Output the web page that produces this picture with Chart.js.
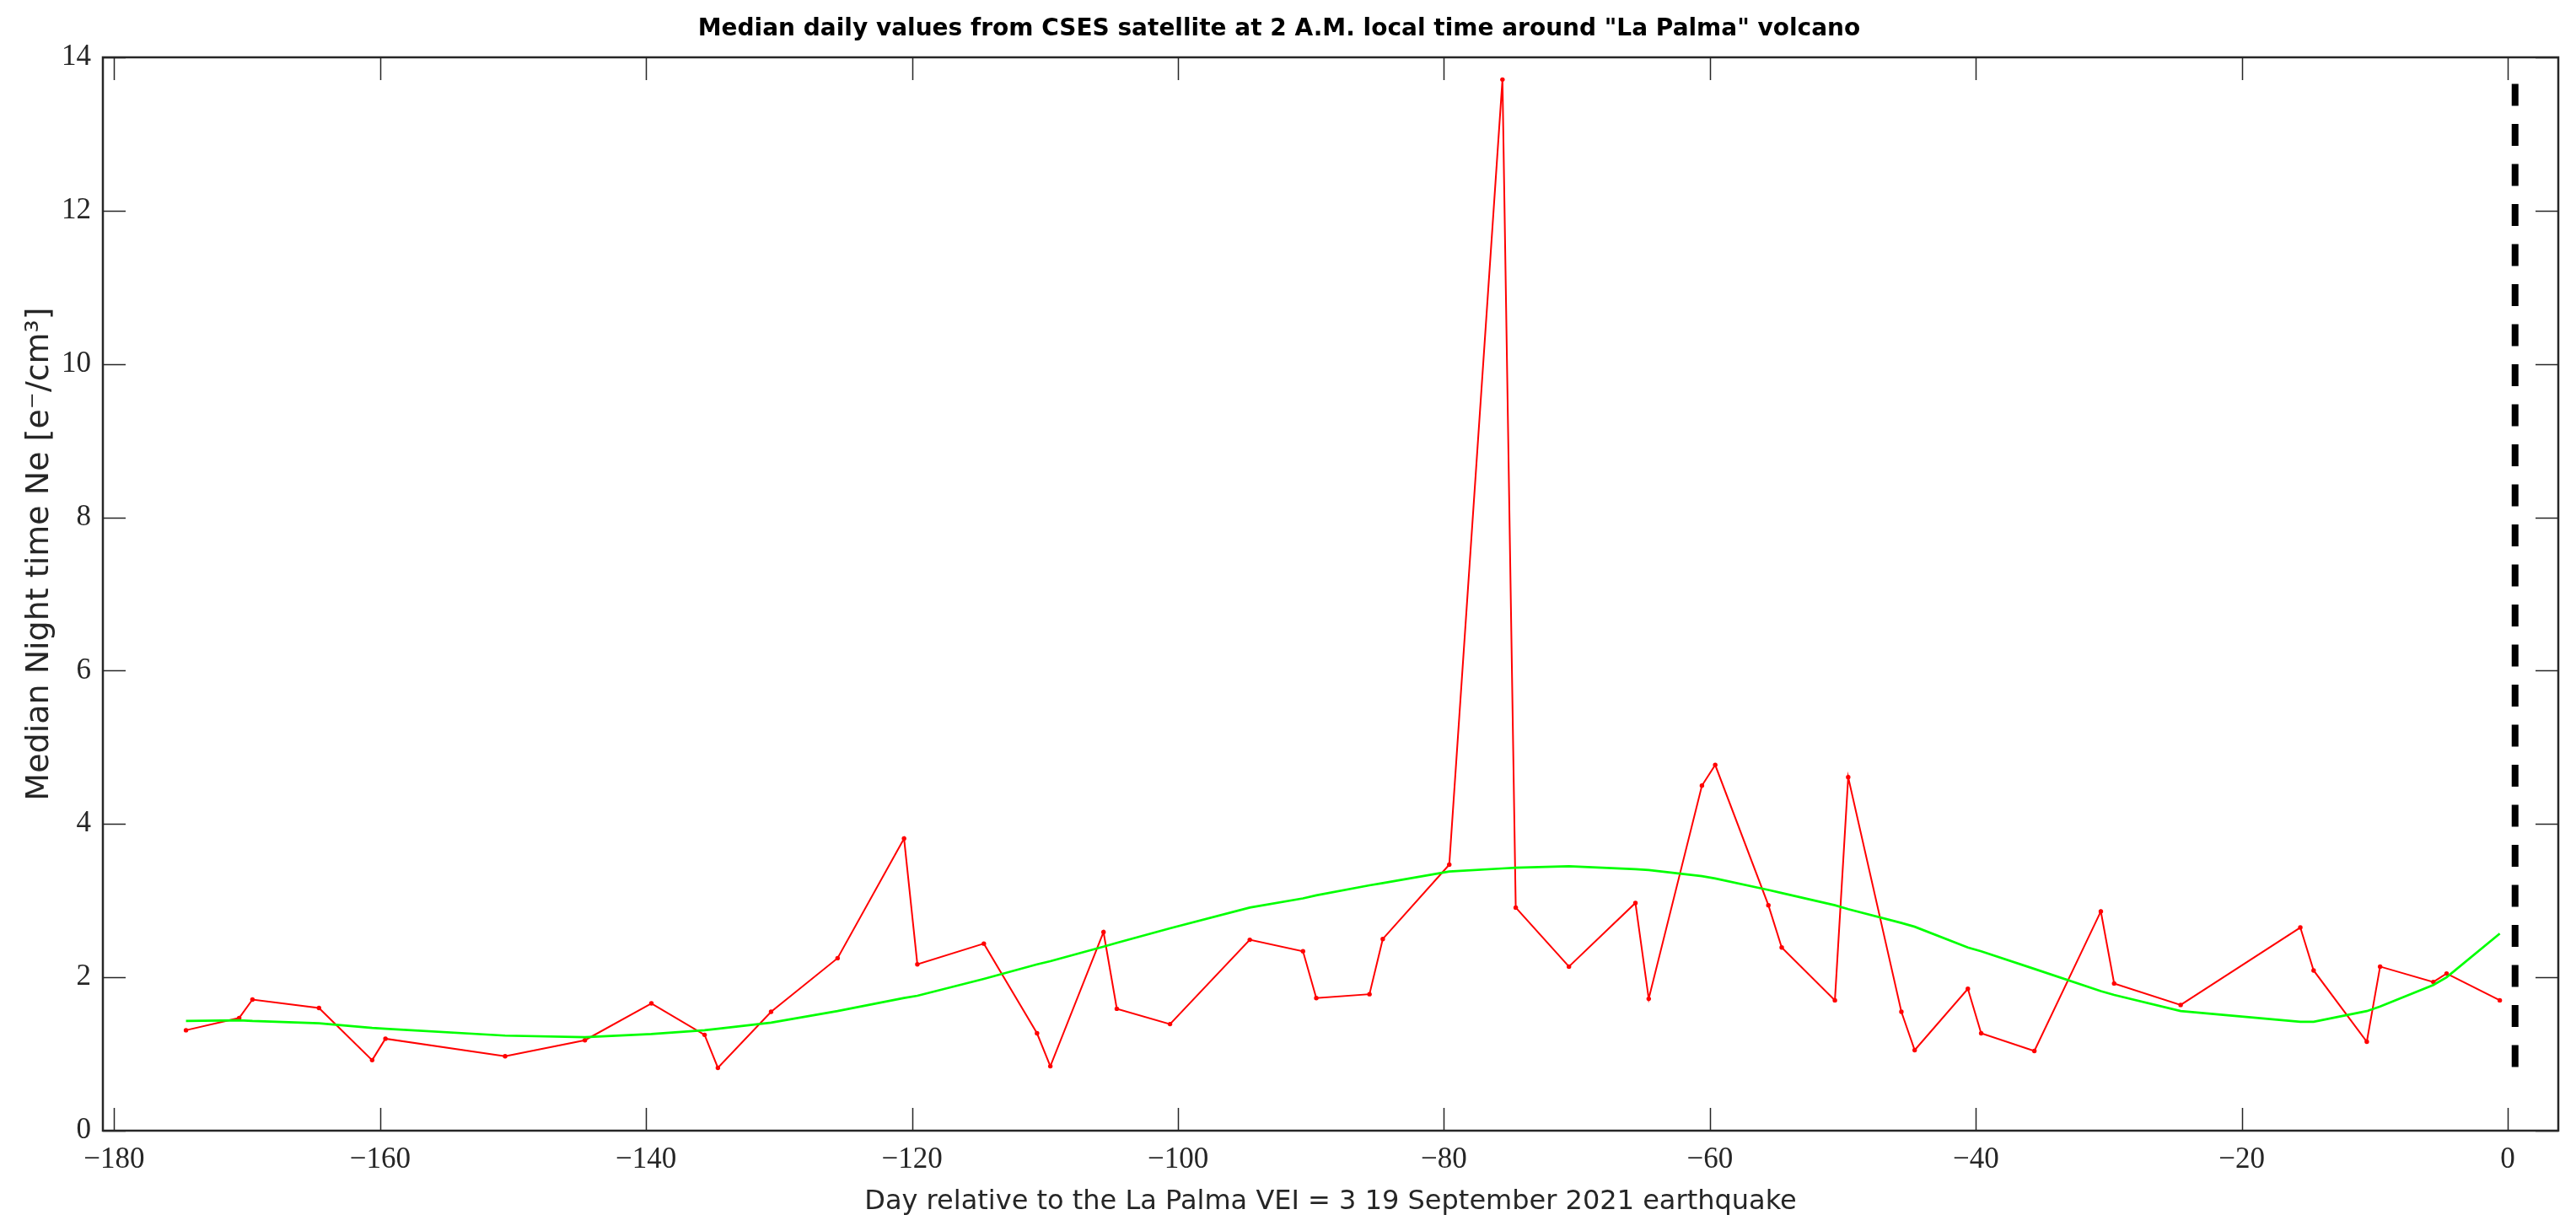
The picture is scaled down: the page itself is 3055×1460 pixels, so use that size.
<!DOCTYPE html>
<html>
<head>
<meta charset="utf-8">
<script src="https://cdn.jsdelivr.net/npm/chart.js@4.4.1/dist/chart.umd.min.js"></script>
<style>
  html, body { margin: 0; padding: 0; background: #ffffff; }
  #wrap { width: 3055px; height: 1460px; position: relative; }
</style>
</head>
<body>
<div id="wrap"><canvas id="chart-ne-la-palma"></canvas></div>
<script>
// days relative to the 19 Sep 2021 event
const days = [
  -174.6, -170.6, -169.6, -164.6, -160.6, -159.6, -150.6, -144.6, -139.6, -135.6,
  -134.6, -130.6, -125.6, -120.6, -119.6, -114.6, -110.6, -109.6, -105.6, -104.6,
  -100.6, -94.6, -90.6, -89.6, -85.6, -84.6, -79.6, -75.6, -74.6, -70.6,
  -65.6, -64.6, -60.6, -59.6, -55.6, -54.6, -50.6, -49.6, -45.6, -44.6,
  -40.6, -39.6, -35.6, -30.6, -29.6, -24.6, -15.6, -14.6, -10.6, -9.6,
  -5.6, -4.6, -0.6
];

// median night time Ne (red)
const neMedian = [
  1.31, 1.47, 1.71, 1.60, 0.92, 1.20, 0.97, 1.18, 1.66, 1.25,
  0.82, 1.55, 2.25, 3.81, 2.17, 2.44, 1.27, 0.84, 2.59, 1.59,
  1.39, 2.49, 2.34, 1.73, 1.78, 2.50, 3.47, 13.71, 2.91, 2.14,
  2.97, 1.72, 4.50, 4.77, 2.94, 2.39, 1.70, 4.61, 1.55, 1.05,
  1.85, 1.27, 1.04, 2.86, 1.92, 1.64, 2.65, 2.09, 1.16, 2.14,
  1.94, 2.05, 1.70
];

// smoothed trend (green)
const neSmooth = [
  1.43, 1.44, 1.43, 1.40, 1.34, 1.33, 1.24, 1.22, 1.26, 1.31,
  1.33, 1.41, 1.56, 1.73, 1.76, 1.98, 2.17, 2.21, 2.40, 2.45,
  2.64, 2.91, 3.03, 3.07, 3.20, 3.23, 3.38, 3.42, 3.43, 3.45,
  3.41, 3.40, 3.32, 3.29, 3.14, 3.10, 2.94, 2.89, 2.71, 2.66,
  2.39, 2.34, 2.11, 1.82, 1.77, 1.56, 1.42, 1.42, 1.56, 1.62,
  1.90, 2.00, 2.57
];

// earthquake marker (vertical dashed line), drawn bottom to top
const quakeDay = [0.55, 0.55];
const quakeRange = [0.83, 13.71];

const xTickStep = 20;
const yTickStep = 2;

const TICK_LEN = 27;
const AXIS_COLOR = "#262626";
const SERIF = "'Liberation Serif', 'Times New Roman', serif";
const SANS = "'DejaVu Sans', Arial, sans-serif";

// white background + boxed axes with inward ticks (MATLAB style)
const matlabFrame = {
  id: "matlabFrame",
  beforeDraw(chart) {
    const ctx = chart.ctx;
    ctx.save();
    ctx.fillStyle = "#ffffff";
    ctx.fillRect(0, 0, chart.width, chart.height);
    ctx.restore();
  },
  afterDatasetsDraw(chart) {
    const { ctx, chartArea: a, scales } = chart;
    ctx.save();
    ctx.strokeStyle = AXIS_COLOR;
    ctx.lineWidth = 1.5;
    ctx.beginPath();
    scales.x.ticks.forEach((t) => {
      const px = Math.round(scales.x.getPixelForValue(t.value)) + 0.5;
      ctx.moveTo(px, a.bottom);
      ctx.lineTo(px, a.bottom - TICK_LEN);
      ctx.moveTo(px, a.top);
      ctx.lineTo(px, a.top + TICK_LEN);
    });
    scales.y.ticks.forEach((t) => {
      const py = Math.round(scales.y.getPixelForValue(t.value)) + 0.5;
      ctx.moveTo(a.left, py);
      ctx.lineTo(a.left + TICK_LEN, py);
      ctx.moveTo(a.right, py);
      ctx.lineTo(a.right - TICK_LEN, py);
    });
    ctx.stroke();
    ctx.lineWidth = 2.5;
    ctx.strokeRect(a.left, a.top, a.right - a.left, a.bottom - a.top);
    ctx.restore();
  },
};

const toPoints = (xs, ys) => xs.map((x, i) => ({ x: x, y: ys[i] }));

const ctx = document.getElementById("chart-ne-la-palma").getContext("2d");
new Chart(ctx, {
  type: "line",
  data: {
    datasets: [
      {
        label: "Smoothed",
        data: toPoints(days, neSmooth),
        borderColor: "#00ff00",
        borderWidth: 2.7,
        pointRadius: 0,
        tension: 0,
        order: 0,
      },
      {
        label: "Median Ne",
        data: toPoints(days, neMedian),
        borderColor: "#ff0000",
        backgroundColor: "#ff0000",
        borderWidth: 2,
        pointRadius: 2.7,
        pointBorderWidth: 0,
        tension: 0,
        order: 1,
      },
      {
        label: "Earthquake",
        data: toPoints(quakeDay, quakeRange),
        borderColor: "#000000",
        borderWidth: 8,
        borderDash: [26, 21.5],
        borderCapStyle: "butt",
        pointRadius: 0,
        order: 2,
      },
    ],
  },
  options: {
    responsive: true,
    maintainAspectRatio: false,
    animation: false,
    layout: { padding: { left: 0, right: 21, top: 0, bottom: 0 } },
    plugins: {
      legend: { display: false },
      tooltip: { enabled: false },
      title: {
        display: true,
        text: 'Median daily values from CSES satellite at 2 A.M. local time around "La Palma" volcano',
        color: "#000000",
        font: { family: SANS, size: 28, weight: "bold", lineHeight: 1.2 },
        padding: { top: 18, bottom: 16.4 },
      },
    },
    scales: {
      x: {
        type: "linear",
        min: -180.85,
        max: 3.8,
        grid: { display: false, drawTicks: false },
        border: { display: false },
        ticks: {
          stepSize: xTickStep,
          includeBounds: false,
          maxRotation: 0,
          padding: 14,
          color: AXIS_COLOR,
          font: { family: SERIF, size: 35 },
          callback: (value) => String(value).replace("-", "\u2212"),
        },
        title: {
          display: true,
          text: "Day relative to the La Palma VEI = 3 19 September 2021 earthquake",
          color: AXIS_COLOR,
          font: { family: SANS, size: 32, lineHeight: 1.2 },
          padding: { top: 0, bottom: 15 },
        },
        afterFit: (scale) => {
          scale.height = 119;
        },
      },
      y: {
        type: "linear",
        min: 0,
        max: 14,
        grid: { display: false, drawTicks: false },
        border: { display: false },
        ticks: {
          stepSize: yTickStep,
          padding: 14,
          color: AXIS_COLOR,
          font: { family: SERIF, size: 35 },
        },
        title: {
          display: true,
          // leading en spaces nudge the rotated label upward, as in the original
          text: "\u2002\u2002\u2002\u2002\u2002Median Night time Ne [e\u207B/cm\u00B3]",
          color: AXIS_COLOR,
          font: { family: SANS, size: 38, lineHeight: 1.2 },
          padding: { top: 24, bottom: 0 },
        },
        afterFit: (scale) => {
          scale.width = 122;
        },
      },
    },
  },
  plugins: [matlabFrame],
});
</script>
</body>
</html>
